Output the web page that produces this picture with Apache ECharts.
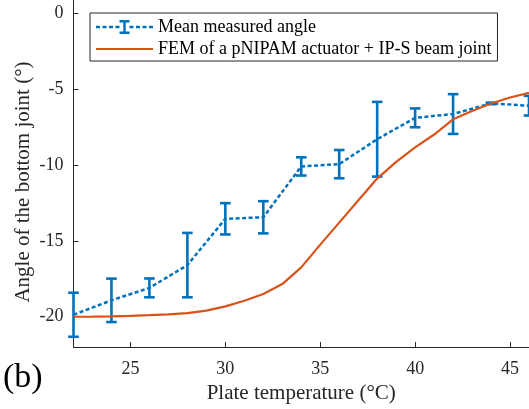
<!DOCTYPE html>
<html>
<head>
<meta charset="utf-8">
<script src="https://cdn.jsdelivr.net/npm/echarts@6/dist/echarts.min.js"></script>
<style>
html,body{margin:0;padding:0;background:#fff;}
#chart{width:529px;height:409px;}
</style>
</head>
<body>
<div id="chart"></div>
<script>
// ---- Data ----
const temps = [22, 24, 26, 28, 30, 32, 34, 36, 38, 40, 42, 44, 46];
const meanAngle = [-19.87, -18.92, -18.1, -16.6, -13.55, -13.45, -10.1, -9.95, -8.31, -6.9, -6.65, -5.95, -6.1];
const errAngle = [1.45, 1.43, 0.62, 2.12, 1.03, 1.06, 0.6, 0.93, 2.46, 0.62, 1.31, 0.05, 0.65];

const femTemps = [22, 23, 24, 25, 26, 27, 28, 29, 30, 31, 32, 33, 34, 35, 36, 37, 38, 39, 40, 41, 42, 43, 44, 45, 46];
const femAngle = [-20.0, -19.99, -19.97, -19.94, -19.9, -19.84, -19.76, -19.6, -19.32, -18.95, -18.5, -17.85, -16.75, -15.25, -13.8, -12.35, -10.9, -9.8, -8.85, -8.0, -7.0, -6.45, -5.96, -5.56, -5.26];

const xTicks = [25, 30, 35, 40, 45];
const yTicks = [-20, -15, -10, -5, 0];

const legendNames = ['Mean measured angle', 'FEM of a pNIPAM actuator + IP-S beam joint'];
const xLabel = 'Plate temperature (°C)';
const yLabel = 'Angle of the bottom joint (°)';
const panelLabel = '(b)';

// ---- Chart ----
const BLUE = '#0072BD';
const ORANGE = '#D95319';
const AX = '#262626';
const FONT = '"Liberation Serif", "Times New Roman", serif';

const chart = echarts.init(document.getElementById('chart'), null, {renderer: 'canvas'});

const errData = temps.map((t, i) => [t, meanAngle[i], errAngle[i]]);
const meanData = temps.map((t, i) => [t, meanAngle[i]]);
const femData = femTemps.map((t, i) => [t, femAngle[i]]);

const blueIcon = 'path://' +
  'M0,5.75h4v2.5h-4z M6.5,5.75h4v2.5h-4z M13,5.75h4v2.5h-4z M19.5,5.75h4v2.5h-4z ' +
  'M33.5,5.75h4v2.5h-4z M40,5.75h4v2.5h-4z M46.5,5.75h4v2.5h-4z M53,5.75h4v2.5h-4z ' +
  'M23.5,0h10v2.5h-10z M23.5,11.5h10v2.5h-10z M27.25,0h2.5v14h-2.5z';
const orangeIcon = 'path://' +
  'M0,0h0.01v0.01h-0.01z M56.99,13.99h0.01v0.01h-0.01z M0,5.9h57v2.2h-57z';

const option = {
  animation: false,
  backgroundColor: '#fff',
  grid: {left: 73.5, right: 0, top: 0, bottom: 60.6, containLabel: false},
  xAxis: {
    type: 'value', min: 22, max: 46,
    axisLine: {show: true, onZero: false, lineStyle: {color: AX, width: 1}},
    axisTick: {show: true, inside: true, length: 5, lineStyle: {color: AX}, customValues: xTicks},
    axisLabel: {color: AX, fontFamily: FONT, fontSize: 18, margin: 13, customValues: xTicks},
    splitLine: {show: false},
    name: xLabel, nameLocation: 'middle', nameGap: 32,
    nameTextStyle: {color: AX, fontFamily: FONT, fontSize: 21}
  },
  yAxis: {
    type: 'value', min: -22, max: 0.86,
    axisLine: {show: true, onZero: false, lineStyle: {color: AX, width: 1}},
    axisTick: {show: true, inside: true, length: 5, lineStyle: {color: AX}, customValues: yTicks},
    axisLabel: {color: AX, fontFamily: FONT, fontSize: 18, margin: 10, customValues: yTicks},
    splitLine: {show: false}
  },
  legend: {
    show: true,
    data: [{name: legendNames[0], icon: blueIcon}, {name: legendNames[1], icon: orangeIcon}],
    orient: 'vertical',
    left: 90, top: 13,
    itemWidth: 57, itemHeight: 14, itemGap: 4,
    padding: [5, 6, 3, 6],
    borderColor: AX, borderWidth: 1, backgroundColor: '#fff',
    selectedMode: false,
    textStyle: {color: '#000', fontFamily: FONT, fontSize: 18}
  },
  graphic: [
    {type: 'text', x: 23, y: 182, rotation: Math.PI / 2,
      style: {text: yLabel, fill: AX, font: '21px ' + FONT, align: 'center', verticalAlign: 'middle'}},
    {type: 'text', x: 3, y: 361,
      style: {text: panelLabel, fill: '#000', font: '34px ' + FONT, verticalAlign: 'top'}}
  ],
  series: [
    {
      name: 'errbars', type: 'custom', clip: false, z: 2,
      data: errData,
      renderItem: function (params, api) {
        const x = api.value(0), m = api.value(1), e = api.value(2);
        const top = api.coord([x, m + e]);
        const bot = api.coord([x, m - e]);
        const hw = 5.3;
        const st = {stroke: BLUE, lineWidth: 2.6, fill: null};
        return {type: 'group', children: [
          {type: 'line', shape: {x1: top[0], y1: top[1], x2: bot[0], y2: bot[1]}, style: st},
          {type: 'line', shape: {x1: top[0] - hw, y1: top[1], x2: top[0] + hw, y2: top[1]}, style: st},
          {type: 'line', shape: {x1: bot[0] - hw, y1: bot[1], x2: bot[0] + hw, y2: bot[1]}, style: st}
        ]};
      }
    },
    {
      name: legendNames[0], type: 'line', data: meanData, symbol: 'none', clip: false, z: 3,
      itemStyle: {color: BLUE},
      lineStyle: {color: BLUE, width: 2.5, type: [4, 2.5], cap: 'butt'}
    },
    {
      name: legendNames[1], type: 'line', data: femData, symbol: 'none', clip: false, z: 4,
      itemStyle: {color: ORANGE},
      lineStyle: {color: ORANGE, width: 2.2}
    }
  ]
};
chart.setOption(option);
</script>
</body>
</html>
